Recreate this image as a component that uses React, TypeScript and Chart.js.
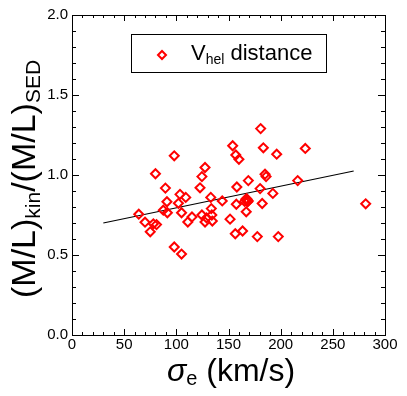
import React, { useEffect, useRef } from "react";
import { Chart, registerables } from "chart.js";

Chart.register(...registerables);

// sigma_e (km/s)
const sigmaE: number[] = [
  64, 70, 75, 78, 81, 80, 98, 89.5, 91, 87.5,
  91.4, 98, 105, 103.5, 109, 102, 105, 111, 115, 122.7,
  124.5, 127.5, 133, 144, 133.5, 124.5, 129, 134.5, 127.5, 134,
  151.5, 156.5, 163.5, 177.6, 197.7, 154, 157, 160, 180.8, 183.4,
  196.2, 223.6, 185, 186, 169, 158, 180.3, 192.5, 216.3, 167.4,
  165.5, 169, 157.5, 182.3, 167, 281.5, 167.8, 166.6, 168.2,
];
// (M/L)kin / (M/L)SED
const mlRatio: number[] = [
  0.755, 0.705, 0.645, 0.695, 0.69, 1.008, 1.12, 0.918, 0.833, 0.78,
  0.764, 0.55, 0.506, 0.879, 0.86, 0.823, 0.764, 0.706, 0.738, 0.92,
  0.99, 1.047, 0.86, 0.838, 0.79, 0.75, 0.732, 0.712, 0.706, 0.75,
  0.724, 0.633, 0.65, 0.615, 0.615, 1.183, 1.125, 1.098, 1.29, 1.17,
  1.13, 1.166, 1.005, 0.99, 0.965, 0.925, 0.915, 0.885, 0.965, 0.852,
  0.835, 0.838, 0.817, 0.822, 0.77, 0.82, 0.845, 0.848, 0.832,
];
// linear fit
const fitX: number[] = [30, 270];
const fitY: number[] = [0.7, 1.025];

const xMin = 0, xMax = 300, xMajor = 50, xMinor = 10;
const yMin = 0, yMax = 2, yMajor = 0.5, yMinor = 0.1;

const legendMain = "V";
const legendSub = "hel";
const legendRest = " distance";

const FONT = "'Liberation Sans', Arial, Helvetica, sans-serif";

const framePlugin = {
  id: "frameAndTitles",
  afterDraw(chart: any) {
    const ctx: CanvasRenderingContext2D = chart.ctx;
    const { left, right, top, bottom } = chart.chartArea;
    const xs = chart.scales.x;
    const ys = chart.scales.y;
    ctx.save();
    ctx.strokeStyle = "#000";
    ctx.lineWidth = 1;
    ctx.strokeRect(left + 0.5, top + 0.5, right - left, bottom - top);
    ctx.beginPath();
    for (let v = xMin; v <= xMax + 1e-9; v += xMinor) {
      const px = Math.round(xs.getPixelForValue(v)) + 0.5;
      const isMaj = Math.abs(v / xMajor - Math.round(v / xMajor)) < 1e-6;
      const len = isMaj ? 6 : 3;
      ctx.moveTo(px, bottom);
      ctx.lineTo(px, bottom - len);
      ctx.moveTo(px, top);
      ctx.lineTo(px, top + len);
    }
    for (let v = yMin; v <= yMax + 1e-9; v += yMinor) {
      const py = Math.round(ys.getPixelForValue(v)) + 0.5;
      const isMaj = Math.abs(v / yMajor - Math.round(v / yMajor)) < 1e-6;
      const len = isMaj ? 7 : 4;
      ctx.moveTo(left, py);
      ctx.lineTo(left + len, py);
      ctx.moveTo(right, py);
      ctx.lineTo(right - len, py);
    }
    ctx.stroke();

    // Legend
    const lx = left + 59, ly = top + 19, lw = 195, lh = 38;
    ctx.fillStyle = "#fff";
    ctx.fillRect(lx, ly, lw, lh);
    ctx.strokeStyle = "#000";
    ctx.strokeRect(lx + 0.5, ly + 0.5, lw, lh);
    const dx = lx + 31, dy = ly + 21;
    ctx.beginPath();
    ctx.moveTo(dx - 4, dy);
    ctx.lineTo(dx, dy - 4);
    ctx.lineTo(dx + 4, dy);
    ctx.lineTo(dx, dy + 4);
    ctx.closePath();
    ctx.strokeStyle = "#ff0000";
    ctx.lineWidth = 2;
    ctx.stroke();
    ctx.fillStyle = "#000";
    ctx.textBaseline = "alphabetic";
    ctx.textAlign = "left";
    let tx = lx + 60;
    const tb = ly + 26;
    ctx.font = `22px ${FONT}`;
    ctx.fillText(legendMain, tx, tb);
    tx += ctx.measureText(legendMain).width;
    ctx.font = `14px ${FONT}`;
    ctx.fillText(legendSub, tx, tb + 4);
    tx += ctx.measureText(legendSub).width;
    ctx.font = `22px ${FONT}`;
    ctx.fillText(legendRest, tx, tb);

    // X title: sigma_e (km/s)
    const xb = 381;
    let xx = 167;
    ctx.font = `italic 32px ${FONT}`;
    ctx.fillText("\u03c3", xx, xb);
    xx += ctx.measureText("\u03c3").width;
    ctx.font = `20px ${FONT}`;
    ctx.fillText("e", xx, xb + 4);
    xx += ctx.measureText("e").width;
    ctx.font = `32px ${FONT}`;
    ctx.fillText(" (km/s)", xx, xb);

    // Y title: (M/L)kin/(M/L)SED rotated
    ctx.translate(35, 298);
    ctx.rotate(-Math.PI / 2);
    const segs: [string, boolean][] = [
      ["(M/L)", false],
      ["kin", true],
      ["/(M/L)", false],
      ["SED", true],
    ];
    let yy = 0;
    for (const [t, sub] of segs) {
      ctx.font = sub ? `21px ${FONT}` : `34px ${FONT}`;
      ctx.fillText(t, yy, sub ? 5 : 0);
      yy += ctx.measureText(t).width;
    }
    ctx.restore();
  },
};

export default function App() {
  const ref = useRef<HTMLCanvasElement | null>(null);
  useEffect(() => {
    if (!ref.current) return;
    const chart = new Chart(ref.current, {
      type: "scatter",
      data: {
        datasets: [
          {
            label: "Vhel distance",
            data: sigmaE.map((x, i) => ({ x, y: mlRatio[i] })),
            pointStyle: "rectRot",
            pointRadius: 4.5,
            pointBorderWidth: 2,
            pointBorderColor: "#ff0000",
            pointBackgroundColor: "rgba(0,0,0,0)",
            showLine: false,
          },
          {
            label: "fit",
            data: fitX.map((x, i) => ({ x, y: fitY[i] })),
            showLine: true,
            borderColor: "#000",
            borderWidth: 1.2,
            pointRadius: 0,
          },
        ],
      },
      options: {
        animation: false,
        responsive: false,
        events: [],
        layout: { padding: { top: 15, right: 22, left: 0, bottom: 0 } },
        plugins: { legend: { display: false }, tooltip: { enabled: false } },
        scales: {
          x: {
            type: "linear",
            min: xMin,
            max: xMax,
            afterFit: (s: any) => { s.height = 61; },
            grid: { display: false, drawTicks: false },
            border: { display: false },
            ticks: {
              stepSize: xMajor,
              padding: 1,
              color: "#000",
              font: { family: FONT, size: 15 },
              maxRotation: 0,
            },
          },
          y: {
            type: "linear",
            min: yMin,
            max: yMax,
            afterFit: (s: any) => { s.width = 72; },
            grid: { display: false, drawTicks: false },
            border: { display: false },
            ticks: {
              stepSize: yMajor,
              padding: 4,
              color: "#000",
              font: { family: FONT, size: 15 },
              callback: (v: any) => Number(v).toFixed(1),
            },
          },
        },
      },
      plugins: [framePlugin],
    });
    return () => chart.destroy();
  }, []);
  return (
    <div style={{ position: "absolute", left: 0, top: 0, width: 407, height: 396, background: "#fff" }}>
      <canvas ref={ref} width={407} height={396} style={{ width: 407, height: 396, display: "block" }} />
    </div>
  );
}
